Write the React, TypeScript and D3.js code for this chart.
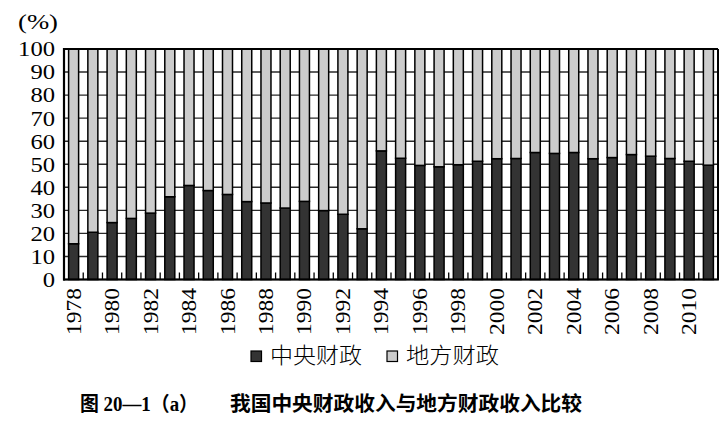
import React from "react";
import * as d3 from "d3";

const years = [
  "1978", "1979", "1980", "1981", "1982", "1983", "1984", "1985", "1986", "1987",
  "1988", "1989", "1990", "1991", "1992", "1993", "1994", "1995", "1996", "1997",
  "1998", "1999", "2000", "2001", "2002", "2003", "2004", "2005", "2006", "2007",
  "2008", "2009", "2010", "2011",
];
const central = [
  15.5, 20.5, 24.7, 26.5, 28.8, 35.9, 40.8, 38.6, 36.9, 33.8,
  33.2, 31.0, 33.9, 29.9, 28.3, 22.0, 55.8, 52.6, 49.5, 48.9,
  49.8, 51.3, 52.4, 52.5, 55.1, 54.7, 55.1, 52.4, 52.9, 54.2,
  53.5, 52.5, 51.3, 49.6,
];
const local = [
  84.5, 79.5, 75.3, 73.5, 71.2, 64.1, 59.2, 61.4, 63.1, 66.2,
  66.8, 69.0, 66.1, 70.1, 71.7, 78.0, 44.2, 47.4, 50.5, 51.1,
  50.2, 48.7, 47.6, 47.5, 44.9, 45.3, 44.9, 47.6, 47.1, 45.8,
  46.5, 47.5, 48.7, 50.4,
];
const yTicks = [0, 10, 20, 30, 40, 50, 60, 70, 80, 90, 100];
const labelYears = ["1978", "1980", "1982", "1984", "1986", "1988", "1990", "1992", "1994", "1996", "1998", "2000", "2002", "2004", "2006", "2008", "2010"];
const seriesNames = ["中央财政", "地方财政"];
const seriesColors = ["#333333", "#cccccc"];
const unitLabel = "(%)";
const captionLeft = "图 20—1（a）";
const captionRight = "我国中央财政收入与地方财政收入比较";

const serif = "'Liberation Serif', 'DejaVu Serif', serif";
const cjk = "'Noto Sans CJK SC', sans-serif";

export default function App() {
  const left = 64, right = 718, top = 49, bottom = 279.5;
  const x = d3.scaleBand<string>().domain(years).range([left, right]).paddingInner(0.48).paddingOuter(0.24);
  const y = d3.scaleLinear().domain([0, 100]).range([bottom, top]);
  const step = x.step();
  const bw = x.bandwidth();

  return (
    <svg width={728} height={429} style={{ position: "absolute", left: 0, top: 0, background: "#fff" }}>
      <rect x={0} y={0} width={728} height={429} fill="#fff" />
      {yTicks.map((t) => (
        <line key={"g" + t} x1={left} x2={right} y1={y(t)} y2={y(t)} stroke="#2a2a2a" strokeWidth={1.4} />
      ))}
      {years.map((yr, i) => {
        const bx = x(yr)!;
        return (
          <g key={yr}>
            <rect x={bx} y={y(central[i])} width={bw} height={y(0) - y(central[i])} fill={seriesColors[0]} stroke="#000" strokeWidth={1.5} />
            <rect x={bx} y={y(central[i] + local[i])} width={bw} height={y(central[i]) - y(central[i] + local[i])} fill={seriesColors[1]} stroke="#000" strokeWidth={1.5} />
          </g>
        );
      })}
      {years.slice(0, -1).map((yr) => {
        const tx = x(yr)! + bw / 2 + step / 2;
        return <line key={"t" + yr} x1={tx} x2={tx} y1={bottom} y2={bottom - 7} stroke="#000" strokeWidth={1.3} />;
      })}
      <line x1={left} x2={right} y1={top} y2={top} stroke="#000" strokeWidth={2} />
      <line x1={right} x2={right} y1={top} y2={bottom} stroke="#000" strokeWidth={2} />
      <line x1={left} x2={left} y1={top - 1} y2={bottom + 1} stroke="#000" strokeWidth={2.2} />
      <line x1={left - 1} x2={right + 1} y1={bottom} y2={bottom} stroke="#000" strokeWidth={2.2} />
      {yTicks.map((t) => {
        const s = String(t);
        return (
          <text key={"y" + t} x={55} y={y(t)} dy="0.35em" textAnchor="end" fontFamily={serif} fontSize={21}
            textLength={12.3 * s.length} lengthAdjust="spacingAndGlyphs" fill="#000">{s}</text>
        );
      })}
      <text x={18} y={29} fontFamily={serif} fontSize={21} textLength={40} lengthAdjust="spacingAndGlyphs" fill="#000">{unitLabel}</text>
      {labelYears.map((yr) => {
        const cx = x(yr)! + bw / 2 + 7;
        return (
          <text key={"x" + yr} transform={`translate(${cx},288) rotate(-90)`} textAnchor="end" fontFamily={serif}
            fontSize={20.5} textLength={47} lengthAdjust="spacingAndGlyphs" fill="#000">{yr}</text>
        );
      })}
      <rect x={251} y={351} width={10.5} height={10.5} fill={seriesColors[0]} stroke="#000" strokeWidth={1.2} />
      <text x={270} y={363} fontFamily={cjk} fontWeight={300} fontSize={22} textLength={92} lengthAdjust="spacingAndGlyphs" fill="#000">{seriesNames[0]}</text>
      <rect x={387} y={351} width={10.5} height={10.5} fill={seriesColors[1]} stroke="#000" strokeWidth={1.2} />
      <text x={406} y={363} fontFamily={cjk} fontWeight={300} fontSize={22} textLength={93} lengthAdjust="spacingAndGlyphs" fill="#000">{seriesNames[1]}</text>
      <text x={80} y={411} fontFamily={`${serif}, ${cjk}`} fontWeight="bold" fontSize={20}
        textLength={118} lengthAdjust="spacingAndGlyphs" fill="#000">{captionLeft}</text>
      <text x={230} y={411} fontFamily={cjk} fontWeight="bold" fontSize={20}
        textLength={352} lengthAdjust="spacingAndGlyphs" fill="#000">{captionRight}</text>
    </svg>
  );
}
